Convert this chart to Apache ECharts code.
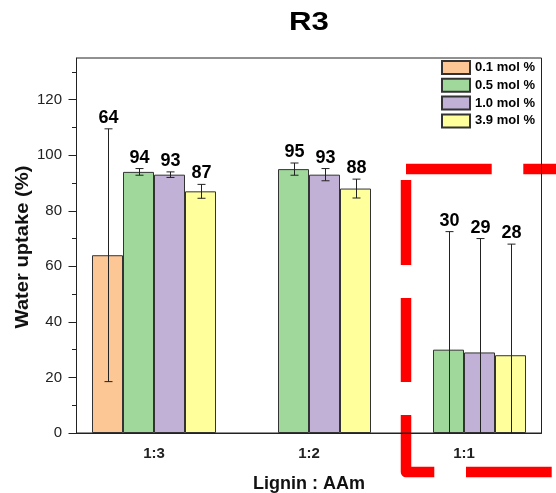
<!DOCTYPE html>
<html>
<head>
<meta charset="utf-8">
<script src="https://cdn.jsdelivr.net/npm/echarts@6/dist/echarts.min.js"></script>
<style>
  html, body { margin: 0; padding: 0; background: #fff; }
  #chart { width: 556px; height: 493px; }
</style>
</head>
<body>
<div id="chart"></div>
<script>
// Water uptake of R3 hydrogels by lignin : AAm ratio and crosslinker content
const categories = ['1:3', '1:2', '1:1'];
const seriesNames = ['0.1 mol %', '0.5 mol %', '1.0 mol %', '3.9 mol %'];
const seriesColors = ['#FCC795', '#A0D79B', '#C1B1D7', '#FFFF9C'];

const uptake01 = [64, null, null];
const uptake05 = [94, 95, 30];
const uptake10 = [93, 93, 29];
const uptake39 = [87, 88, 28];

const err01 = [45.5, null, null];
const err05 = [1.2, 2.2, 42.5];
const err10 = [1.0, 2.2, 41];
const err39 = [2.5, 3.4, 40];

const majorTicks = [0, 20, 40, 60, 80, 100, 120];
const minorTicks = [10, 30, 50, 70, 90, 110, 130];

const values = [uptake01, uptake05, uptake10, uptake39];
const errors = [err01, err05, err10, err39];

const FONT = '"Liberation Sans", Arial, Helvetica, sans-serif';
const chart = echarts.init(document.getElementById('chart'), null, { renderer: 'canvas' });

const barCount = seriesNames.length;
const categoryGap = 0.2;

function barSeries(i) {
  return {
    type: 'bar',
    name: seriesNames[i],
    data: values[i].map(v => (v == null ? '-' : v)),
    barGap: '0%',
    barCategoryGap: '20%',
    itemStyle: { color: seriesColors[i], borderColor: '#333', borderWidth: 1 },
    z: 2
  };
}

// error bars plus the value printed above the upper whisker
function errorSeries(i) {
  const data = [];
  values[i].forEach((v, ci) => {
    if (v != null) data.push([ci, v, errors[i][ci]]);
  });
  return {
    type: 'custom',
    name: seriesNames[i] + ' err',
    data: data,
    encode: { x: 0, y: 1 },
    z: 5,
    renderItem: function (params, api) {
      const ci = api.value(0), v = api.value(1), e = api.value(2);
      const band = api.size([1, 0])[0];
      const bw = band * (1 - categoryGap) / barCount;
      const x = Math.round(api.coord([ci, 0])[0] + (i - (barCount - 1) / 2) * bw) + 0.5;
      const yTop = api.coord([ci, v + e])[1];
      const low = v - e;
      const yBot = api.coord([ci, Math.max(0, low)])[1];
      const cap = 4;
      const lineStyle = { stroke: '#222', lineWidth: 1, fill: null };
      const children = [
        { type: 'line', shape: { x1: x, y1: yTop, x2: x, y2: yBot }, style: lineStyle },
        { type: 'line', shape: { x1: x - cap, y1: yTop, x2: x + cap, y2: yTop }, style: lineStyle }
      ];
      if (low >= 0) {
        children.push({ type: 'line', shape: { x1: x - cap, y1: yBot, x2: x + cap, y2: yBot }, style: lineStyle });
      }
      children.push({
        type: 'text',
        style: {
          x: x, y: yTop - 11,
          text: String(Math.round(v)),
          align: 'center', verticalAlign: 'middle',
          font: 'bold 18px ' + FONT,
          fill: '#000'
        }
      });
      return { type: 'group', children: children };
    }
  };
}

const series = [];
for (let i = 0; i < barCount; i++) series.push(barSeries(i));
for (let i = 0; i < barCount; i++) series.push(errorSeries(i));

// dashed red highlight around the 1:1 group
const red = '#FF0000';
const dashW = 10.5;
const dashes = [
  [[406, 169], [491.7, 169]],
  [[523.3, 169], [560, 169]],
  [[406, 180], [406, 265]],
  [[406, 298], [406, 382]],
  [[406, 415], [406, 472], [434.3, 472]],
  [[466, 472], [551.7, 472]]
];

const graphics = dashes.map(pts => ({
  type: 'polyline',
  z: -1,
  silent: true,
  shape: { points: pts },
  style: { stroke: red, lineWidth: dashW, lineJoin: 'round', lineCap: 'butt', fill: null }
}));

// heading, drawn slightly wide
graphics.push({
  type: 'text',
  x: 309, y: 23,
  scaleX: 1.2,
  silent: true,
  style: {
    text: 'R3', align: 'center', verticalAlign: 'middle',
    font: 'bold 26px ' + FONT, fill: '#000'
  }
});

// y-axis title
graphics.push({
  type: 'text',
  x: 23, y: 247,
  rotation: Math.PI / 2,
  scaleX: 1.12,
  silent: true,
  style: {
    text: 'Water uptake (%)', align: 'center', verticalAlign: 'middle',
    font: 'bold 18px ' + FONT, fill: '#111'
  }
});

const option = {
  backgroundColor: '#fff',
  animation: false,
  legend: {
    data: seriesNames,
    orient: 'vertical',
    left: 441,
    top: 60,
    padding: 0,
    itemWidth: 28,
    itemHeight: 13,
    itemGap: 2.8,
    icon: 'rect',
    selectedMode: false,
    textStyle: { fontFamily: FONT, fontWeight: 'bold', fontSize: 13, color: '#000' }
  },
  grid: {
    left: 76.5, right: 14.5, top: 58, bottom: 60,
    outerBoundsMode: 'none',
    show: true, borderColor: '#222', borderWidth: 1, backgroundColor: 'transparent',
    containLabel: false
  },
  xAxis: {
    type: 'category',
    data: categories,
    boundaryGap: true,
    name: 'Lignin : AAm',
    nameLocation: 'middle',
    nameGap: 42,
    nameTextStyle: { fontFamily: FONT, fontWeight: 'bold', fontSize: 18, color: '#111' },
    axisLine: { lineStyle: { color: '#222', width: 1 } },
    axisTick: { alignWithLabel: true, length: 8, inside: false, lineStyle: { color: '#222' } },
    axisLabel: { fontFamily: FONT, fontWeight: 'bold', fontSize: 15, color: '#222', margin: 13 },
    splitLine: { show: false }
  },
  yAxis: [
    {
      type: 'value',
      min: 0, max: 135,
      axisLine: { show: true, lineStyle: { color: '#222', width: 1 } },
      axisTick: { show: true, length: 8, customValues: majorTicks, lineStyle: { color: '#222' } },
      axisLabel: { customValues: majorTicks, fontFamily: FONT, fontSize: 15, color: '#222', margin: 14.5 },
      splitLine: { show: false }
    },
    {
      type: 'value',
      min: 0, max: 135,
      position: 'left',
      axisLine: { show: false },
      axisTick: { show: true, length: 4.5, customValues: minorTicks, lineStyle: { color: '#222' } },
      axisLabel: { show: false },
      splitLine: { show: false }
    }
  ],
  graphic: graphics,
  series: series
};

chart.setOption(option);
</script>
</body>
</html>
